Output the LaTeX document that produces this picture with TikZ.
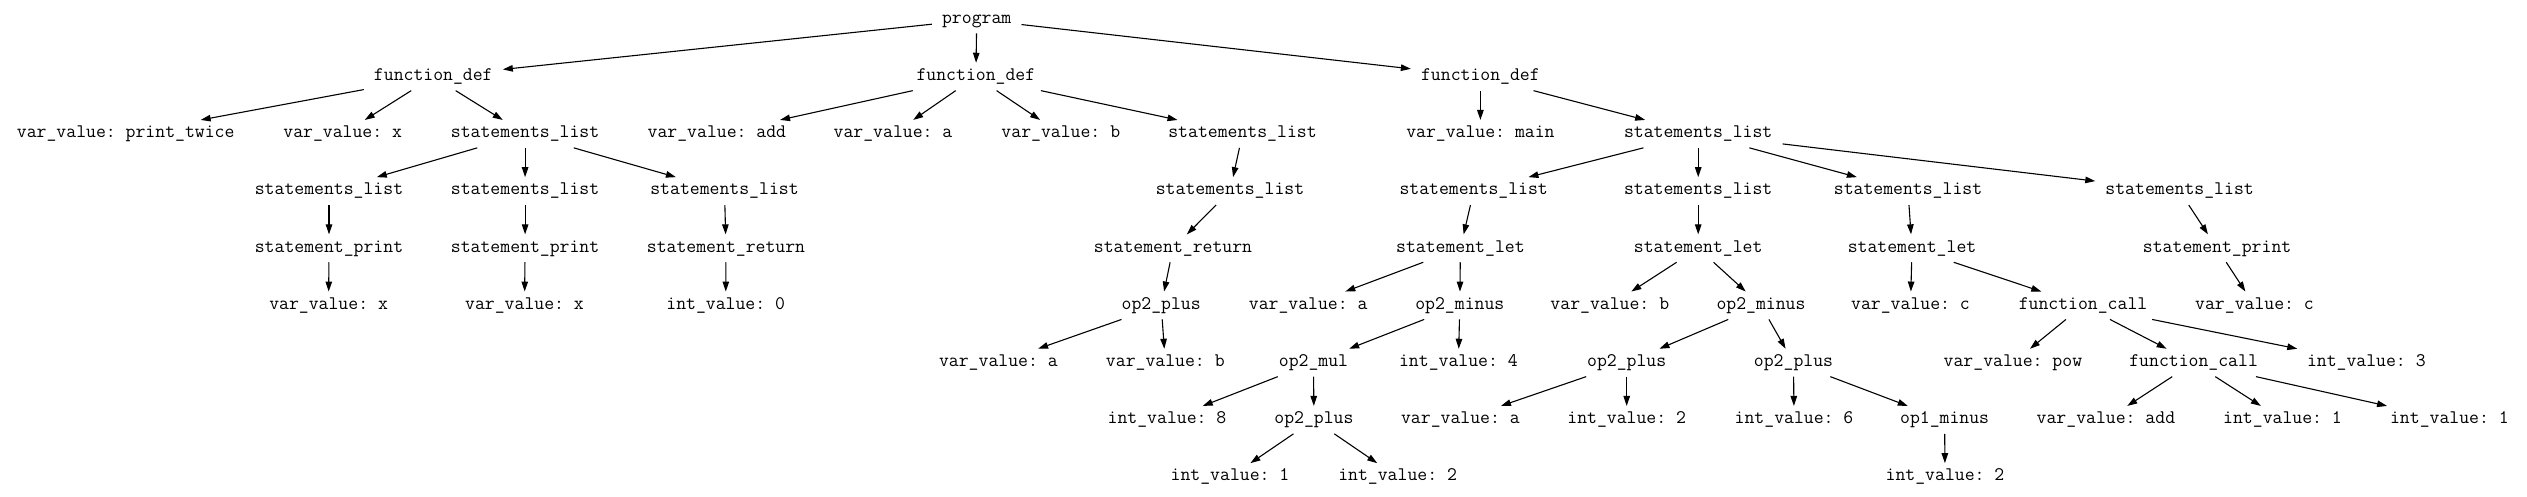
\documentclass[tikz,border=0pt]{standalone}
\usepackage{tikz}
\usetikzlibrary{arrows.meta}

\begin{document}
\begin{tikzpicture}[
    x=1pt, y=-1pt,
    ast/.style={font=\ttfamily\fontsize{19.2}{22}\selectfont\frenchspacing, inner xsep=10pt, inner ysep=0pt, minimum height=27.5pt, text height=11pt, text depth=3.5pt},
    link/.style={-{Triangle[length=10pt,width=6.5pt]}, line width=1.1pt}
]
    \useasboundingbox (0,0) rectangle (2527,497);

    % Root
    \node[ast] (prog) at (976.7, 19.5) {program};

    % Functions
    \node[ast] (fdA) at (433.3, 76.7) {function\_def};
    \node[ast] (fdB) at (975.9, 76.7) {function\_def};
    \node[ast] (fdC) at (1480.4, 76.7) {function\_def};

    % Row 2
    \node[ast] (vPT) at (125.7, 133.9) {var\_value: print\_twice};
    \node[ast] (vX) at (342.7, 133.9) {var\_value: x};
    \node[ast] (slA) at (525.1, 133.9) {statements\_list};
    \node[ast] (vAdd) at (716.9, 133.9) {var\_value: add};
    \node[ast] (vA) at (893, 133.9) {var\_value: a};
    \node[ast] (vB) at (1060.8, 133.9) {var\_value: b};
    \node[ast] (slB) at (1242.5, 133.9) {statements\_list};
    \node[ast] (vMain) at (1480.4, 133.9) {var\_value: main};
    \node[ast] (slC) at (1698.2, 133.9) {statements\_list};

    % Row 3
    \node[ast] (slA1) at (329, 191.1) {statements\_list};
    \node[ast] (slA2) at (525.1, 191.1) {statements\_list};
    \node[ast] (slA3) at (724.5, 191.1) {statements\_list};
    \node[ast] (slB1) at (1230, 191.1) {statements\_list};
    \node[ast] (slC1) at (1473.7, 191.1) {statements\_list};
    \node[ast] (slC2) at (1698.2, 191.1) {statements\_list};
    \node[ast] (slC3) at (1908, 191.1) {statements\_list};
    \node[ast] (slC4) at (2179.6, 191.1) {statements\_list};

    % Row 4
    \node[ast] (spA1) at (329, 248.3) {statement\_print};
    \node[ast] (spA2) at (525.1, 248.3) {statement\_print};
    \node[ast] (srA) at (726, 248.3) {statement\_return};
    \node[ast] (srB) at (1173, 248.3) {statement\_return};
    \node[ast] (letA) at (1460.4, 248.3) {statement\_let};
    \node[ast] (letB) at (1698.2, 248.3) {statement\_let};
    \node[ast] (letC) at (1912, 248.3) {statement\_let};
    \node[ast] (spC) at (2217.1, 248.3) {statement\_print};

    % Row 5
    \node[ast] (vxA1) at (328.6, 305.5) {var\_value: x};
    \node[ast] (vxA2) at (524.5, 305.5) {var\_value: x};
    \node[ast] (i0) at (725.7, 305.5) {int\_value: 0};
    \node[ast] (plB) at (1161.2, 305.5) {op2\_plus};
    \node[ast] (vaC) at (1308.2, 305.5) {var\_value: a};
    \node[ast] (miA) at (1459.8, 305.5) {op2\_minus};
    \node[ast] (vbC) at (1609.8, 305.5) {var\_value: b};
    \node[ast] (miB) at (1761, 305.5) {op2\_minus};
    \node[ast] (vcC) at (1910.5, 305.5) {var\_value: c};
    \node[ast] (fcA) at (2083, 305.5) {function\_call};
    \node[ast] (vcD) at (2254.5, 305.5) {var\_value: c};

    % Row 6
    \node[ast] (vaB) at (998.4, 362.7) {var\_value: a};
    \node[ast] (vbB) at (1165.3, 362.7) {var\_value: b};
    \node[ast] (mul) at (1313.5, 362.7) {op2\_mul};
    \node[ast] (i4) at (1458.4, 362.7) {int\_value: 4};
    \node[ast] (plC1) at (1626.7, 362.7) {op2\_plus};
    \node[ast] (plC2) at (1793.5, 362.7) {op2\_plus};
    \node[ast] (vPow) at (2012.9, 362.7) {var\_value: pow};
    \node[ast] (fcB) at (2193.6, 362.7) {function\_call};
    \node[ast] (i3) at (2366.3, 362.7) {int\_value: 3};

    % Row 7
    \node[ast] (i8) at (1167, 419.9) {int\_value: 8};
    \node[ast] (plM) at (1313.9, 419.9) {op2\_plus};
    \node[ast] (vaD) at (1460.4, 419.9) {var\_value: a};
    \node[ast] (i2a) at (1626.7, 419.9) {int\_value: 2};
    \node[ast] (i6) at (1794, 419.9) {int\_value: 6};
    \node[ast] (neg) at (1944.6, 419.9) {op1\_minus};
    \node[ast] (vAdd2) at (2105.9, 419.9) {var\_value: add};
    \node[ast] (i1a) at (2282.5, 419.9) {int\_value: 1};
    \node[ast] (i1b) at (2449.4, 419.9) {int\_value: 1};

    % Row 8
    \node[ast] (i1c) at (1230, 477.1) {int\_value: 1};
    \node[ast] (i2b) at (1397.6, 477.1) {int\_value: 2};
    \node[ast] (i2c) at (1945, 477.1) {int\_value: 2};

    % Edges: program
    \draw[link] (prog) -- (fdA);
    \draw[link] (prog) -- (fdB);
    \draw[link] (prog) -- (fdC);

    % Edges: print_twice
    \draw[link] (fdA) -- (vPT);
    \draw[link] (fdA) -- (vX);
    \draw[link] (fdA) -- (slA);
    \draw[link] (slA) -- (slA1);
    \draw[link] (slA) -- (slA2);
    \draw[link] (slA) -- (slA3);
    \draw[link] (slA1) -- (spA1);
    \draw[link] (slA2) -- (spA2);
    \draw[link] (slA3) -- (srA);
    \draw[link] (spA1) -- (vxA1);
    \draw[link] (spA2) -- (vxA2);
    \draw[link] (srA) -- (i0);

    % Edges: add
    \draw[link] (fdB) -- (vAdd);
    \draw[link] (fdB) -- (vA);
    \draw[link] (fdB) -- (vB);
    \draw[link] (fdB) -- (slB);
    \draw[link] (slB) -- (slB1);
    \draw[link] (slB1) -- (srB);
    \draw[link] (srB) -- (plB);
    \draw[link] (plB) -- (vaB);
    \draw[link] (plB) -- (vbB);

    % Edges: main
    \draw[link] (fdC) -- (vMain);
    \draw[link] (fdC) -- (slC);
    \draw[link] (slC) -- (slC1);
    \draw[link] (slC) -- (slC2);
    \draw[link] (slC) -- (slC3);
    \draw[link] (slC) -- (slC4);
    \draw[link] (slC1) -- (letA);
    \draw[link] (letA) -- (vaC);
    \draw[link] (letA) -- (miA);
    \draw[link] (miA) -- (mul);
    \draw[link] (miA) -- (i4);
    \draw[link] (mul) -- (i8);
    \draw[link] (mul) -- (plM);
    \draw[link] (plM) -- (i1c);
    \draw[link] (plM) -- (i2b);
    \draw[link] (slC2) -- (letB);
    \draw[link] (letB) -- (vbC);
    \draw[link] (letB) -- (miB);
    \draw[link] (miB) -- (plC1);
    \draw[link] (miB) -- (plC2);
    \draw[link] (plC1) -- (vaD);
    \draw[link] (plC1) -- (i2a);
    \draw[link] (plC2) -- (i6);
    \draw[link] (plC2) -- (neg);
    \draw[link] (neg) -- (i2c);
    \draw[link] (slC3) -- (letC);
    \draw[link] (letC) -- (vcC);
    \draw[link] (letC) -- (fcA);
    \draw[link] (fcA) -- (vPow);
    \draw[link] (fcA) -- (fcB);
    \draw[link] (fcA) -- (i3);
    \draw[link] (fcB) -- (vAdd2);
    \draw[link] (fcB) -- (i1a);
    \draw[link] (fcB) -- (i1b);
    \draw[link] (slC4) -- (spC);
    \draw[link] (spC) -- (vcD);

\end{tikzpicture}
\end{document}
